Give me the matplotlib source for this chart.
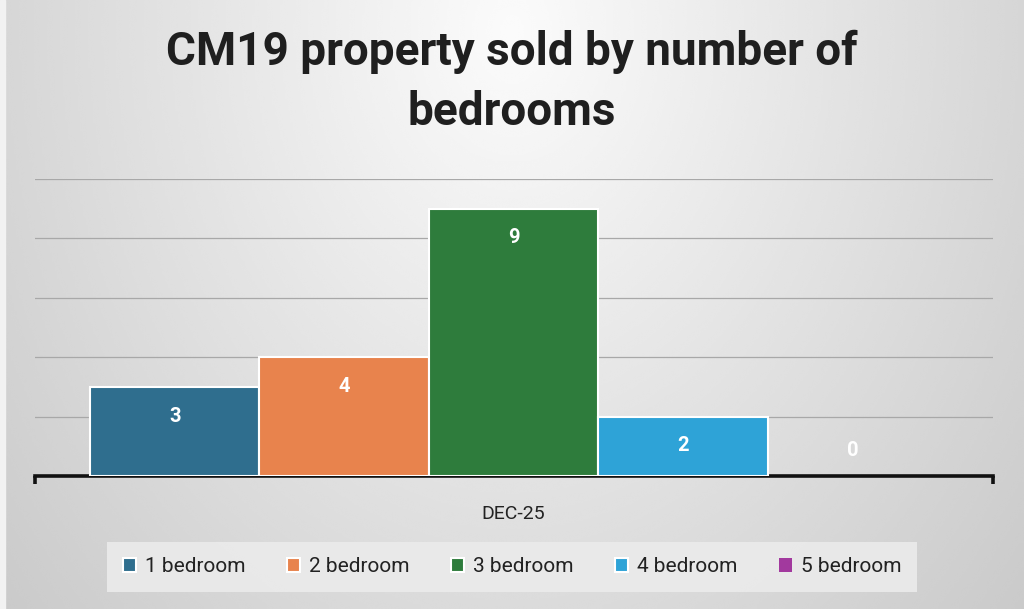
import matplotlib
matplotlib.use("Agg")
import matplotlib.pyplot as plt
import numpy as np

# Data
period = "DEC-25"
series_names = ["1 bedroom", "2 bedroom", "3 bedroom", "4 bedroom", "5 bedroom"]
sold_counts = [3, 4, 9, 2, 0]
series_colors = ["#2f6e8e", "#e8834d", "#2e7c3c", "#2ea3d7", "#a2399e"]
y_ticks = [0, 2, 4, 6, 8, 10]

fig = plt.figure(figsize=(10.24, 6.09), dpi=100)

# soft grey radial backdrop, brightest near the top middle
bg = fig.add_axes([0, 0, 1, 1], zorder=-10)
gx, gy = np.meshgrid(np.linspace(-1, 1, 400), np.linspace(0, 1, 300))
dist = np.sqrt((gx / 1.1) ** 2 + ((gy - 0.05) / 1.2) ** 2)
shade = np.clip(0.985 - 0.16 * dist, 0.79, 1.0)
bg.imshow(shade, cmap="gray", vmin=0, vmax=1, aspect="auto",
          extent=[0, 1, 1, 0], interpolation="bicubic")
bg.axvspan(0, 0.005, color="#f2f2f2")
bg.set_xlim(0, 1)
bg.set_ylim(1, 0)
bg.axis("off")

ax = fig.add_axes([0.0342, 0.2184, 0.9355, 0.4877])
ax.patch.set_alpha(0)

x = np.arange(len(series_names))
for xi, v, name, col in zip(x, sold_counts, series_names, series_colors):
    ax.bar(xi, v, width=1.0, color=col, edgecolor="white",
           linewidth=1.5 if v > 0 else 0, label=name, zorder=3)
    off = -21 if v > 1 else 0
    y_txt = v if v > 1 else 0.85
    ax.annotate(str(v), (xi, y_txt), xytext=(0, off), textcoords="offset points",
                ha="center", va="center", color="white", fontsize=14.5,
                fontweight="bold", family="Roboto", zorder=4)

ax.set_xlim(-0.825, 4.83)
ax.set_ylim(0, 10)
ax.set_yticks(y_ticks)
ax.yaxis.grid(True, color="#a8a8a8", linewidth=0.9, zorder=0)
ax.tick_params(axis="y", length=0, labelleft=False)
ax.set_axisbelow(True)

for side in ["left", "right", "top"]:
    ax.spines[side].set_visible(False)
ax.spines["bottom"].set_linewidth(2.6)
ax.spines["bottom"].set_color("#111111")
ax.spines["bottom"].set_capstyle("projecting")

# little end caps at both sides of the category axis
ax.set_xticks([-0.825, 4.83])
ax.set_xticklabels(["", ""])
ax.tick_params(axis="x", which="major", direction="out", length=6, width=2.6,
               color="#111111")
ax.set_xticks([2], minor=True)
ax.set_xticklabels([period], minor=True)
ax.tick_params(axis="x", which="minor", length=0, pad=21, labelsize=14,
               labelcolor="#222222")
for lab in ax.get_xticklabels(minor=True):
    lab.set_family("Roboto")

fig.text(0.5, 0.866, "CM19 property sold by number of\nbedrooms", ha="center",
         va="center", fontsize=33, fontweight="bold", family="Roboto",
         color="#1f1f1f", linespacing=1.45)

leg = fig.legend(loc="center", bbox_to_anchor=(0.5, 0.069), ncol=5,
                 frameon=True, fancybox=False, handlelength=0.65,
                 handleheight=0.65, handletextpad=0.4, columnspacing=2.0,
                 borderpad=0.75, prop={"family": "Roboto", "size": 15})
leg.get_frame().set_facecolor("#ebebeb")
leg.get_frame().set_edgecolor("none")
leg.get_frame().set_alpha(0.9)
for t in leg.get_texts():
    t.set_color("#222222")

fig.savefig("out.png", dpi=100)
